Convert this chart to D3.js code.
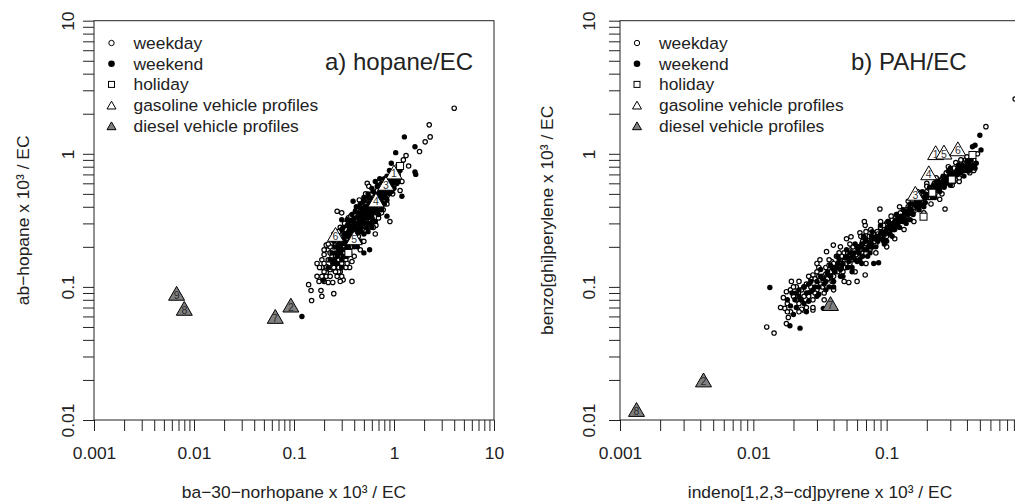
<!DOCTYPE html>
<html>
<head>
<meta charset="utf-8">
<script src="https://cdn.jsdelivr.net/npm/d3@7"></script>
<style>
  body { margin: 0; background: #fff; }
  svg { display: block; font-family: 'Liberation Sans', Arial, sans-serif; }
</style>
</head>
<body>
<svg width="1015" height="504"></svg>
<script>
'use strict'

// Panel a) hopane / EC  -- [norhopane, hopane]
const weekdayA = [
  [4.0,2.2],[2.25,1.65],[2.3,1.34],[2.05,1.23],[1.8,1.04],[1.32,0.97],[1.24,0.9],[1.4,0.81],
  [1.15,0.53],[1.07,0.6],[0.54,0.6],[0.56,0.57],[0.27,0.37],[0.65,0.29],[0.91,0.31],[0.66,0.29],
  [0.21,0.206],[0.2,0.175],[0.19,0.16],[0.21,0.142],[0.23,0.135],[0.257,0.132],[0.29,0.13],[0.21,0.128],
  [0.33,0.16],[0.38,0.155],[0.36,0.14],[0.31,0.18],[0.46,0.19],[0.65,0.25],[0.31,0.113],[0.244,0.108],
  [0.22,0.108],[0.178,0.11],[0.38,0.11],[0.14,0.104],[0.148,0.094],[0.186,0.094],[0.19,0.085],[0.15,0.079],
  [0.25,0.089],[0.19,0.14],[0.2,0.15],[0.24,0.17],[0.26,0.15],[0.28,0.16],[0.22,0.19],[0.25,0.2],
  [0.27,0.24],[0.29,0.22],[0.32,0.2],[0.35,0.22],[0.37,0.2],[0.4,0.26],[0.44,0.24],[0.45,0.29],
  [0.48,0.27],[0.5,0.33],[0.53,0.31],[0.57,0.36],[0.6,0.33],[0.63,0.38],[0.7,0.42],[0.75,0.5],
  [0.8,0.45],[0.85,0.48],[0.9,0.55],[0.95,0.66],[1.0,0.58],[1.05,0.72],[1.1,0.82],[0.35,0.33],
  [0.4,0.35],[0.47,0.41],[0.55,0.28],[0.62,0.28],[0.7,0.33],[0.78,0.38],[0.33,0.27],[0.29,0.28],
  [0.43,0.32],[0.52,0.43],[0.68,0.53],[1.2,0.62],[0.97,0.5],[0.23,0.2],[0.3,0.15],[0.25,0.25],
  [0.24,0.14],[0.26,0.17],[0.28,0.14],[0.3,0.17],[0.32,0.18],[0.34,0.17],[0.26,0.21],[0.23,0.18],
  [0.27,0.22],[0.31,0.25],[0.34,0.23],[0.36,0.25],[0.38,0.3],[0.42,0.27],[0.46,0.33],[0.5,0.36],
  [0.55,0.38],[0.6,0.4],[0.65,0.45],[0.72,0.5],[0.8,0.55],[0.88,0.6],[0.92,0.68],[1.0,0.75],
  [1.1,0.7],[0.49,0.3],[0.44,0.3],[0.39,0.27],[0.58,0.32],[0.75,0.36],[0.85,0.42],[0.3,0.12],
  [0.22,0.16],[0.2,0.13],[0.17,0.12],[0.21,0.12],[0.27,0.12],[0.35,0.19],[0.4,0.21],[0.47,0.22],
  [0.22,0.21],[0.2,0.19],[0.24,0.23],[0.28,0.26],[0.32,0.3],[0.37,0.34],[0.42,0.38],[0.3,0.36],
  [0.45,0.45],[0.6,0.5],[0.52,0.5],[0.25,0.14],[0.28,0.13],[0.33,0.14],[0.4,0.17],[0.5,0.22],
  [0.18,0.14],[0.17,0.15],[0.19,0.12],[0.23,0.12],[0.26,0.13],[0.34,0.15],[0.29,0.11],[0.2,0.11]
]
const weekendA = [
  [1.27,1.34],[1.62,1.13],[1.04,1.02],[0.94,0.85],[1.62,0.73],[1.65,0.7],[1.2,0.48],[0.65,0.62],
  [0.7,0.58],[0.39,0.44],[0.47,0.39],[0.3,0.32],[0.85,0.34],[0.244,0.15],[0.3,0.14],[0.57,0.19],
  [0.5,0.18],[0.196,0.112],[0.12,0.06],[0.28,0.21],[0.3,0.19],[0.32,0.22],[0.33,0.25],[0.35,0.24],
  [0.36,0.27],[0.38,0.26],[0.4,0.3],[0.42,0.28],[0.42,0.33],[0.45,0.31],[0.46,0.36],[0.48,0.34],
  [0.5,0.3],[0.5,0.38],[0.52,0.35],[0.55,0.33],[0.55,0.4],[0.58,0.37],[0.6,0.42],[0.6,0.35],
  [0.62,0.45],[0.65,0.4],[0.65,0.5],[0.68,0.44],[0.7,0.48],[0.72,0.52],[0.75,0.46],[0.78,0.55],
  [0.8,0.5],[0.82,0.6],[0.85,0.56],[0.88,0.52],[0.9,0.62],[0.95,0.58],[1.0,0.65],[1.05,0.6],
  [1.1,0.68],[0.26,0.18],[0.27,0.2],[0.23,0.16],[0.22,0.14],[0.31,0.17],[0.34,0.2],[0.4,0.23],
  [0.44,0.26],[0.53,0.28],[0.58,0.3],[0.36,0.31],[0.41,0.37],[0.3,0.27],[0.55,0.47],[0.5,0.44],
  [0.66,0.36],[0.75,0.4],[0.43,0.2],[0.25,0.22],[0.34,0.29],[0.6,0.55],[0.72,0.65],[0.9,0.75],
  [1.15,0.75],[0.26,0.24],
  [0.27,0.17],[0.28,0.19],[0.29,0.2],[0.3,0.21],[0.31,0.23],[0.32,0.19],[0.33,0.21],[0.34,0.24],
  [0.35,0.26],[0.36,0.22],[0.37,0.25],[0.38,0.28],[0.39,0.24],[0.4,0.27],[0.41,0.29],[0.42,0.25],
  [0.43,0.3],[0.44,0.28],[0.45,0.33],[0.46,0.3],[0.47,0.28],[0.48,0.31],[0.49,0.35],[0.5,0.32],
  [0.51,0.36],[0.52,0.33],[0.53,0.37],[0.54,0.34],[0.56,0.38],[0.57,0.35],[0.58,0.4],[0.59,0.36],
  [0.61,0.39],[0.62,0.41],[0.63,0.37],[0.64,0.43],[0.66,0.42],[0.67,0.46],[0.69,0.43],[0.71,0.47],
  [0.73,0.49],[0.74,0.44],[0.76,0.5],[0.77,0.48],[0.79,0.52],[0.81,0.54],[0.83,0.52],[0.86,0.58],
  [0.87,0.62],[0.89,0.58],[0.92,0.6],[0.93,0.66],[0.96,0.62],[0.98,0.68],[1.02,0.66],[1.06,0.7],
  [0.29,0.18],[0.32,0.25],[0.36,0.29],[0.39,0.32],[0.44,0.35],[0.48,0.38],[0.52,0.4],[0.56,0.43],
  [0.6,0.46],[0.35,0.2],[0.41,0.24],[0.47,0.26],[0.54,0.3],[0.61,0.32],[0.68,0.38],[0.75,0.43],
  [0.82,0.47],[1.05,0.65],[1.1,0.62],[0.95,0.55],
  [0.5,0.25],[0.55,0.26],[0.6,0.28],[0.65,0.31],[0.7,0.35],[0.75,0.38],[0.8,0.42],[0.85,0.45],
  [0.9,0.5],[0.95,0.52],[1.0,0.55],[0.45,0.22],[0.4,0.2],[0.36,0.18],[0.33,0.17],[0.3,0.16],
  [0.27,0.15],[0.25,0.16],[0.24,0.18],[0.26,0.2],[0.28,0.23],[0.31,0.28],[0.34,0.32],[0.38,0.35],
  [0.42,0.4],[0.46,0.42],[0.5,0.47],[0.55,0.5],[0.62,0.52],[0.68,0.57],[0.75,0.6],[0.8,0.65],
  [0.85,0.68]
]
const holidayA = [[1.15,0.81],[0.35,0.18]]
const gasolineA = [[1,1.0,0.73],[3,0.83,0.6],[4,0.66,0.45],[5,0.4,0.234],[6,0.26,0.248]]
const dieselA = [[9,0.0067,0.0895],[8,0.008,0.069],[2,0.093,0.073],[7,0.065,0.06]]

// Panel b) PAH / EC  -- [indeno pyrene, benzo perylene]
const weekdayB = [
  [0.92,2.58],[0.555,1.6],[0.35,0.62],[0.25,0.455],[0.274,0.385],[0.089,0.385],[0.0126,0.05],[0.0143,0.045],
  [0.0177,0.053],[0.0183,0.059],[0.0172,0.069],[0.0168,0.083],[0.0177,0.092],[0.0193,0.11],[0.0218,0.09],[0.0237,0.067],
  [0.028,0.067],[0.028,0.123],[0.0316,0.16],[0.0354,0.184],[0.0398,0.206],[0.0386,0.155],[0.054,0.238],[0.063,0.255],
  [0.069,0.29],[0.069,0.123],[0.06,0.11],[0.052,0.108],[0.068,0.31],[0.055,0.195],[0.05,0.23],
  [0.016,0.07],[0.018,0.075],[0.019,0.065],[0.02,0.085],[0.021,0.1],[0.022,0.075],[0.023,0.095],[0.024,0.085],
  [0.025,0.07],[0.025,0.105],[0.026,0.09],[0.027,0.1],[0.028,0.08],[0.029,0.115],[0.03,0.095],[0.03,0.13],
  [0.032,0.105],[0.033,0.12],[0.034,0.09],[0.035,0.14],[0.036,0.115],[0.038,0.13],[0.04,0.12],[0.04,0.15],
  [0.042,0.17],[0.044,0.14],[0.045,0.16],[0.047,0.13],[0.048,0.18],[0.05,0.15],[0.052,0.17],[0.055,0.16],
  [0.057,0.19],[0.06,0.17],[0.062,0.2],[0.065,0.18],[0.068,0.21],[0.07,0.2],[0.072,0.23],[0.075,0.19],
  [0.078,0.22],[0.08,0.25],[0.083,0.21],[0.085,0.26],[0.088,0.24],[0.09,0.28],[0.093,0.25],[0.096,0.27],
  [0.1,0.24],[0.1,0.3],[0.104,0.26],[0.108,0.29],[0.11,0.32],[0.113,0.27],[0.117,0.3],[0.12,0.35],
  [0.125,0.31],[0.13,0.34],[0.135,0.37],[0.14,0.33],[0.145,0.4],[0.15,0.36],[0.155,0.42],[0.16,0.39],
  [0.17,0.45],[0.175,0.41],[0.18,0.48],[0.19,0.44],[0.2,0.52],[0.21,0.47],[0.22,0.56],[0.23,0.5],
  [0.24,0.6],[0.25,0.55],[0.26,0.65],[0.27,0.58],[0.28,0.68],[0.3,0.63],[0.31,0.74],[0.33,0.7],
  [0.35,0.8],[0.37,0.75],[0.38,0.85],[0.4,0.82],[0.42,0.9],[0.2,0.6],[0.17,0.52],[0.07,0.26],
  [0.045,0.2],[0.03,0.15],[0.022,0.11],
  [0.019,0.095],[0.021,0.08],[0.023,0.068],[0.024,0.1],[0.026,0.085],[0.027,0.115],[0.029,0.09],[0.031,0.12],
  [0.033,0.1],[0.035,0.125],[0.037,0.145],[0.039,0.11],[0.041,0.14],[0.043,0.13],[0.046,0.17],[0.049,0.14],
  [0.051,0.18],[0.053,0.15],[0.056,0.2],[0.059,0.175],[0.063,0.19],[0.066,0.22],[0.071,0.21],[0.074,0.24],
  [0.077,0.2],[0.081,0.22],[0.086,0.25],[0.091,0.24],[0.095,0.29],[0.098,0.25],[0.102,0.31],[0.107,0.27],
  [0.111,0.29],[0.116,0.33],[0.121,0.3],[0.127,0.36],[0.133,0.32],[0.14,0.38],[0.147,0.36],[0.153,0.41],
  [0.16,0.37],[0.168,0.44],[0.178,0.46],[0.188,0.49],[0.198,0.47],[0.208,0.55],[0.218,0.5],[0.228,0.6],
  [0.238,0.57],[0.25,0.63],[0.265,0.6],[0.28,0.72],[0.29,0.62],[0.305,0.7],[0.32,0.78],[0.34,0.72],
  [0.36,0.84],[0.38,0.8],[0.39,0.9],[0.42,0.86],[0.45,0.9],[0.48,1.0],[0.33,0.86],[0.36,0.9],
  [0.4,0.95],[0.3,0.75],
  [0.018,0.065],[0.02,0.1],[0.022,0.065],[0.026,0.12],[0.028,0.07],[0.031,0.14],[0.034,0.08],[0.037,0.16],
  [0.04,0.095],[0.044,0.18],[0.048,0.11],[0.053,0.21],[0.058,0.13],[0.064,0.24],[0.07,0.15],[0.076,0.27],
  [0.083,0.18],[0.09,0.31],[0.1,0.2],[0.108,0.34],[0.115,0.23],[0.125,0.4],[0.135,0.27],[0.145,0.44],
  [0.16,0.31],[0.175,0.5],[0.19,0.36],[0.2,0.57],[0.215,0.42],[0.235,0.66],[0.26,0.5],[0.29,0.8],
  [0.31,0.58],[0.35,0.66],[0.42,0.72],[0.45,0.75]
]
const weekendB = [
  [0.0133,0.099],[0.0188,0.051],[0.0224,0.049],[0.0205,0.08],[0.0335,0.069],[0.08,0.15],[0.087,0.152],[0.5,1.38],
  [0.51,1.07],[0.46,1.16],[0.44,1.13],[0.41,0.74],[0.019,0.072],[0.02,0.062],[0.021,0.09],[0.023,0.08],
  [0.024,0.1],[0.026,0.078],[0.027,0.092],[0.029,0.1],[0.031,0.088],[0.032,0.12],[0.034,0.105],[0.036,0.125],
  [0.037,0.1],[0.039,0.14],[0.041,0.13],[0.043,0.15],[0.046,0.145],[0.049,0.165],[0.051,0.14],[0.053,0.18],
  [0.056,0.175],[0.058,0.16],[0.061,0.19],[0.064,0.2],[0.066,0.17],[0.069,0.22],[0.071,0.19],[0.074,0.21],
  [0.077,0.24],[0.079,0.2],[0.082,0.23],[0.086,0.22],[0.09,0.25],[0.094,0.23],[0.098,0.26],[0.102,0.28],
  [0.106,0.25],[0.11,0.28],[0.115,0.31],[0.12,0.29],[0.126,0.33],[0.132,0.31],[0.138,0.36],[0.145,0.35],
  [0.152,0.38],[0.16,0.42],[0.168,0.4],[0.176,0.44],[0.185,0.46],[0.195,0.5],[0.205,0.49],[0.215,0.53],
  [0.225,0.58],[0.235,0.55],[0.245,0.62],[0.26,0.6],[0.27,0.66],[0.29,0.67],[0.3,0.72],[0.32,0.68],
  [0.34,0.76],[0.36,0.72],[0.39,0.8],[0.41,0.85],[0.43,0.78],[0.45,0.82],[0.25,0.52],[0.18,0.41],
  [0.3,0.58],[0.065,0.15],[0.04,0.11],[0.055,0.14],[0.15,0.32],[0.1,0.22],
  [0.018,0.08],[0.0195,0.09],[0.021,0.07],[0.022,0.085],[0.024,0.075],[0.025,0.09],[0.026,0.105],[0.028,0.095],
  [0.03,0.11],[0.031,0.1],[0.033,0.115],[0.035,0.11],[0.036,0.13],[0.038,0.12],[0.04,0.135],[0.042,0.14],
  [0.044,0.16],[0.045,0.135],[0.047,0.15],[0.05,0.17],[0.052,0.155],[0.054,0.165],[0.057,0.18],[0.06,0.2],
  [0.062,0.18],[0.065,0.21],[0.068,0.19],[0.07,0.225],[0.073,0.2],[0.076,0.215],[0.08,0.23],[0.084,0.24],
  [0.088,0.23],[0.092,0.26],[0.096,0.25],[0.1,0.27],[0.105,0.29],[0.108,0.27],[0.112,0.3],[0.118,0.32],
  [0.122,0.31],[0.128,0.34],[0.135,0.33],[0.142,0.37],[0.148,0.39],[0.155,0.37],[0.163,0.41],[0.17,0.43],
  [0.178,0.42],[0.19,0.47],[0.2,0.48],[0.21,0.5],[0.22,0.52],[0.23,0.54],[0.24,0.57],[0.255,0.58],
  [0.265,0.62],[0.28,0.64],[0.295,0.66],[0.31,0.7],[0.33,0.73],[0.35,0.76],[0.37,0.78],[0.385,0.75],
  [0.4,0.79],[0.42,0.76],[0.44,0.8],[0.46,0.78],[0.345,0.82],[0.29,0.74],[0.32,0.62],[0.27,0.56],
  [0.23,0.47],[0.19,0.4],[0.14,0.32],[0.115,0.27],[0.095,0.22],[0.075,0.18],[0.06,0.155],[0.045,0.12],
  [0.022,0.095],[0.025,0.065],[0.027,0.11],[0.03,0.085],[0.032,0.135],[0.035,0.095],[0.038,0.145],[0.04,0.1],
  [0.043,0.17],[0.047,0.12],[0.05,0.19],[0.055,0.13],[0.058,0.21],[0.063,0.16],[0.067,0.24],[0.072,0.17],
  [0.078,0.26],[0.083,0.2],[0.09,0.29],[0.096,0.21],[0.103,0.31],[0.11,0.24],[0.118,0.35],[0.125,0.28],
  [0.133,0.38],[0.14,0.3],[0.15,0.42],[0.158,0.35],[0.168,0.46],[0.175,0.38],[0.185,0.52],[0.195,0.43],
  [0.21,0.56],[0.22,0.47],[0.235,0.62],[0.25,0.55],[0.265,0.68],[0.28,0.6],[0.3,0.78],[0.32,0.66],
  [0.34,0.7],[0.37,0.82],[0.4,0.88],[0.43,0.9],[0.47,0.85],[0.38,0.68]
]
const holidayB = [[0.44,0.98],[0.308,0.64],[0.22,0.51],[0.189,0.337]]
const gasolineB = [[1,0.233,1.02],[3,0.164,0.505],[4,0.207,0.72],[5,0.269,1.03],[6,0.342,1.09]]
const dieselB = [[2,0.00423,0.02],[7,0.0379,0.075],[8,0.00133,0.012]]

const legendItems = ['weekday', 'weekend', 'holiday', 'gasoline vehicle profiles', 'diesel vehicle profiles']

const svg = d3.select('svg')
const yTop = 20.7, yBottom = 420, ink = '#222', fs = '17.4px'

function triPath(s) {
  const h = s * Math.sqrt(3) / 2
  return `M0,${-h / 2}L${s / 2},${h / 2}L${-s / 2},${h / 2}Z`
}

function labelFormat(d) {
  const e = Math.log10(d)
  return Math.abs(e - Math.round(e)) < 1e-9 ? String(+d.toPrecision(1)) : ''
}

function drawPanel(p) {
  const x = d3.scaleLog().domain(p.xDomain).range([p.left, p.left + 400])
  const y = d3.scaleLog().domain([0.01, 10]).range([yBottom, yTop])
  const g = svg.append('g')

  // Axes.
  const xAxis = g.append('g')
    .attr('transform', `translate(0,${yBottom})`)
    .call(d3.axisBottom(x).tickValues(x.ticks()).tickSize(11).tickSizeOuter(0).tickFormat(labelFormat))
  xAxis.select('.domain').remove()
  xAxis.selectAll('line').attr('stroke', ink)
  xAxis.selectAll('text')
    .attr('y', 39).attr('dy', 0)
    .style('font-size', fs).attr('fill', ink)
  // the last label of the right panel lies past the page edge
  xAxis.selectAll('.tick').filter(d => x(d) > 1010).select('text').remove()

  const yAxis = g.append('g')
    .attr('transform', `translate(${p.left},0)`)
    .call(d3.axisLeft(y).tickValues(y.ticks()).tickSize(11).tickSizeOuter(0).tickFormat(labelFormat))
  yAxis.select('.domain').remove()
  yAxis.selectAll('line').attr('stroke', ink)
  yAxis.selectAll('text')
    .attr('x', null).attr('dy', 0)
    .attr('text-anchor', 'middle')
    .attr('transform', `translate(${-p.yLabelOff},0) rotate(-90)`)
    .style('font-size', fs).attr('fill', ink)

  // Box.
  g.append('rect')
    .attr('x', p.left).attr('y', yTop)
    .attr('width', 400).attr('height', yBottom - yTop)
    .attr('fill', 'none').attr('stroke', ink).attr('stroke-width', 1)

  // Axis titles.
  g.append('text')
    .attr('x', p.left + 200).attr('y', 498)
    .attr('text-anchor', 'middle')
    .style('font-size', fs).attr('fill', ink)
    .text(p.xTitle)
  g.append('text')
    .attr('transform', `translate(${p.yTitleX},${(yTop + yBottom) / 2}) rotate(-90)`)
    .attr('text-anchor', 'middle')
    .style('font-size', fs).attr('fill', ink)
    .text(p.yTitle)

  // Points.
  g.append('g').selectAll('circle').data(p.weekday).join('circle')
    .attr('cx', d => x(d[0])).attr('cy', d => y(d[1])).attr('r', 2.2)
    .attr('fill', '#fff').attr('stroke', '#000').attr('stroke-width', 1.2)
  g.append('g').selectAll('circle').data(p.weekend).join('circle')
    .attr('cx', d => x(d[0])).attr('cy', d => y(d[1])).attr('r', 2.7)
    .attr('fill', '#000')
  g.append('g').selectAll('rect').data(p.holiday).join('rect')
    .attr('x', d => x(d[0]) - 3.5).attr('y', d => y(d[1]) - 3.5)
    .attr('width', 7).attr('height', 7)
    .attr('fill', '#fff').attr('stroke', '#000').attr('stroke-width', 1)

  const profiles = [
    { data: p.gasoline, fill: '#fff', label: '#333' },
    { data: p.diesel, fill: '#808080', label: '#2a2a2a' }
  ]
  profiles.forEach(pr => {
    const t = g.append('g').selectAll('g').data(pr.data).join('g')
      .attr('transform', d => `translate(${x(d[1])},${y(d[2])})`)
    t.append('path').attr('d', triPath(16))
      .attr('fill', pr.fill).attr('stroke', '#000').attr('stroke-width', 1)
    t.append('text')
      .attr('y', 5.5).attr('text-anchor', 'middle')
      .style('font-size', '10.5px').attr('fill', pr.label)
      .text(d => d[0])
  })

  // Legend.
  const lg = g.append('g')
  legendItems.forEach((txt, i) => {
    const base = 49 + i * 20.7
    const cy = base - 6
    const sx = p.legendX
    if (i === 0) lg.append('circle').attr('cx', sx).attr('cy', cy).attr('r', 2.7)
      .attr('fill', '#fff').attr('stroke', '#000').attr('stroke-width', 1)
    if (i === 1) lg.append('circle').attr('cx', sx).attr('cy', cy).attr('r', 3.3).attr('fill', '#000')
    if (i === 2) lg.append('rect').attr('x', sx - 3).attr('y', cy - 3).attr('width', 6).attr('height', 6)
      .attr('fill', '#fff').attr('stroke', '#000').attr('stroke-width', 1)
    if (i >= 3) lg.append('path').attr('d', triPath(9))
      .attr('transform', `translate(${sx},${cy})`)
      .attr('fill', i === 3 ? '#fff' : '#808080').attr('stroke', '#000').attr('stroke-width', 1)
    lg.append('text').attr('x', sx + 22).attr('y', base)
      .style('font-size', fs).attr('fill', ink).text(txt)
  })

  // Panel title.
  g.append('text')
    .attr('x', p.titleX).attr('y', 70)
    .style('font-size', '24px').attr('fill', ink)
    .text(p.title)
}

drawPanel({
  left: 94, xDomain: [0.001, 10], yLabelOff: 20, yTitleX: 28.5,
  xTitle: 'ba\u221230\u2212norhopane x 10\u00b3 / EC',
  yTitle: 'ab\u2212hopane x 10\u00b3 / EC',
  weekday: weekdayA, weekend: weekendA, holiday: holidayA,
  gasoline: gasolineA, diesel: dieselA,
  legendX: 111.5, titleX: 325, title: 'a) hopane/EC'
})

drawPanel({
  left: 620, xDomain: [0.001, 1], yLabelOff: 25, yTitleX: 553,
  xTitle: 'indeno[1,2,3\u2212cd]pyrene x 10\u00b3 / EC',
  yTitle: 'benzo[ghi]perylene x 10\u00b3 / EC',
  weekday: weekdayB, weekend: weekendB, holiday: holidayB,
  gasoline: gasolineB, diesel: dieselB,
  legendX: 637, titleX: 851, title: 'b) PAH/EC'
})
</script>
</body>
</html>
